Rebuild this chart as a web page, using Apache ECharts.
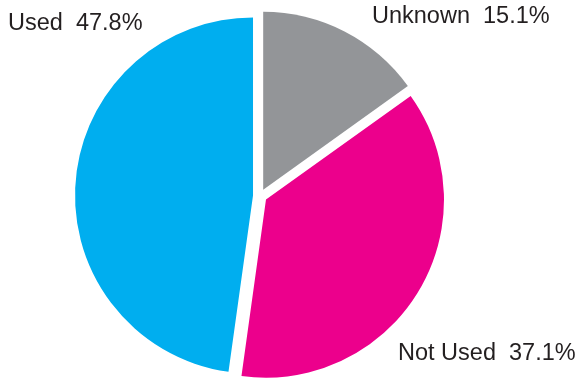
<!DOCTYPE html>
<html>
<head>
<meta charset="utf-8">
<script src="https://cdn.jsdelivr.net/npm/echarts@6/dist/echarts.min.js"></script>
<style>
  html, body { margin: 0; padding: 0; background: #ffffff; }
  #chart { width: 582px; height: 383px; }
</style>
</head>
<body>
<div id="chart"></div>
<script>
// Share of responses, clockwise from 12 o'clock
const categories = ['Unknown', 'Not Used', 'Used'];
const shares = [15.1, 37.1, 47.8];
const colors = ['#939598', '#ec008c', '#00aeef'];
// Caption anchor points (left edge, vertical middle) for each slice
const labelSpots = [
  { x: 372, y: 17 },
  { x: 398, y: 354 },
  { x: 8, y: 24 }
];

const chart = echarts.init(document.getElementById('chart'), null, { renderer: 'canvas' });

chart.setOption({
  animation: false,
  graphic: categories.map((name, i) => ({
    type: 'text',
    x: labelSpots[i].x,
    y: labelSpots[i].y,
    silent: true,
    style: {
      text: name + '  ' + shares[i].toFixed(1) + '%',
      fill: '#231f20',
      font: '23.5px "Liberation Sans", Arial, sans-serif',
      textAlign: 'left',
      textVerticalAlign: 'middle'
    }
  })),
  series: [{
    type: 'pie',
    center: [260, 196],
    radius: [0, 178],
    startAngle: 90,
    clockwise: true,
    selectedMode: 'multiple',
    selectedOffset: 7,
    avoidLabelOverlap: false,
    emphasis: { disabled: true },
    label: { show: false },
    labelLine: { show: false },
    data: categories.map((name, i) => ({
      name,
      value: shares[i],
      selected: true,
      itemStyle: { color: colors[i] }
    }))
  }]
});
</script>
</body>
</html>
